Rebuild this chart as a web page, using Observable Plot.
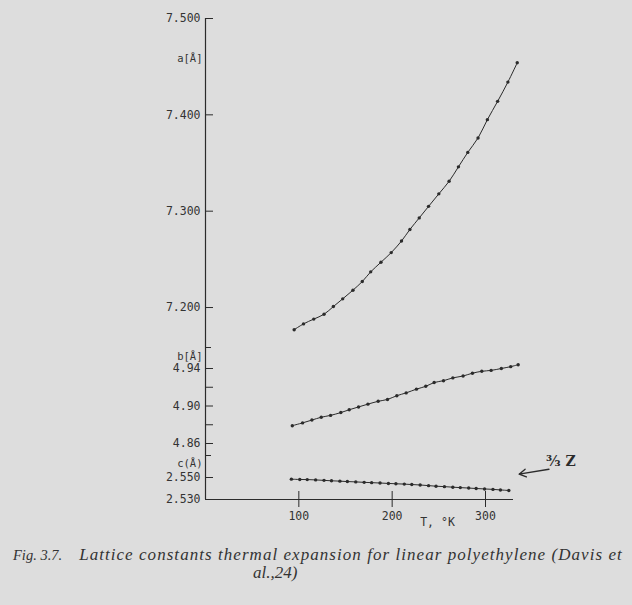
<!DOCTYPE html>
<html><head><meta charset="utf-8">
<script src="https://cdn.jsdelivr.net/npm/d3@7"></script>
<script src="https://cdn.jsdelivr.net/npm/@observablehq/plot@0.6"></script>
<style>
html,body{margin:0;padding:0;background:#dcdcdc;}
#wrap{position:relative;width:632px;height:605px;overflow:hidden;background:#dddddd;}
#wrap svg{position:absolute;left:0;overflow:visible;background:transparent;}
.cap{position:absolute;font-family:"Liberation Serif","DejaVu Serif",serif;font-style:italic;font-size:17px;color:#333;white-space:nowrap;}
.cap .fig{font-size:14.5px;letter-spacing:0;margin-right:17px;}
.cap .txt{letter-spacing:1.05px;}
</style></head><body>
<div id="wrap"></div>
<script>
// Temperature (K) and lattice constants a, b, c (Å)
const T_a = [95,105,116,127,137,147,158,168,177,188,199,210,219,229,239,250,261,271,281,292,302,313,324,334];
const a_vals = [7.177,7.183,7.188,7.193,7.201,7.209,7.218,7.227,7.237,7.247,7.257,7.269,7.281,7.293,7.305,7.318,7.331,7.346,7.361,7.376,7.395,7.414,7.434,7.454];
const T_b = [93,104,114,124,134,145,154,164,174,185,195,205,215,226,236,245,255,265,276,286,296,306,317,327,335];
const b_vals = [4.879,4.882,4.885,4.888,4.890,4.893,4.896,4.899,4.902,4.905,4.907,4.911,4.914,4.918,4.921,4.925,4.927,4.930,4.932,4.935,4.937,4.938,4.940,4.942,4.944];
const T_c = [92,101,109,118,127,135,144,152,161,170,178,187,196,204,213,221,230,239,247,256,265,273,282,290,299,308,316,325];
const c_vals = [2.5485,2.5482,2.5481,2.5478,2.5474,2.5470,2.5467,2.5463,2.5460,2.5456,2.5453,2.5450,2.5446,2.5443,2.5440,2.5436,2.5432,2.5426,2.5421,2.5417,2.5412,2.5408,2.5404,2.5400,2.5396,2.5392,2.5387,2.5382];

const a_ticks = [7.5,7.4,7.3,7.2];
const b_ticks = [4.94,4.90,4.86];
const b_minor = [4.92,4.88];
const c_ticks = [2.550,2.530];
const x_ticks = [100,200,300];
const a_domain = [7.1585,7.5];
const b_domain = [4.8472,4.9624];
const c_domain = [2.530,2.570];
const x_domain = [0,330];
const xLabel = "T, °K";
const annot = [{T1:368, c1:2.5575, T2:336, c2:2.5530, label:"³⁄₃ Z"}];
const captionFig = "Fig. 3.7.";
const caption1 = "Lattice constants thermal expansion for linear polyethylene (Davis et";
const caption2 = "al.,24)";

const ink = "#2b2b2b";
const tickFont = "DejaVu Sans Mono, monospace";
const W = 632, ML = 205, MR = 119;

function rows(T, v){ return T.map((t,i)=>({T:t, v:v[i]})); }

function panel({top, height, mt, mb, domain, data, ticks, minor, fmt, label, labelDy, extra=[], breakTop=false}) {
  const marks = [
    Plot.ruleX([0], {stroke: ink, strokeWidth: 1.2}),
    Plot.tickY(ticks, {y: d=>d, stroke: ink, insetRight: 300}),
    Plot.axisY(ticks, {label: null, tickSize: 0, tickPadding: 5, tickFormat: fmt, fontFamily: tickFont, fontSize: 11.5, fill: "#333"}),
    Plot.line(data, {x: "T", y: "v", stroke: ink, strokeWidth: 1, curve: "catmull-rom"}),
    Plot.dot(data, {x: "T", y: "v", r: 1.7, fill: ink, stroke: "none"}),
    Plot.text([label], {frameAnchor: "top-left", dx: -3, dy: labelDy, textAnchor: "end", fontFamily: tickFont, fontSize: 10.5, fill: "#333"}),
    ...extra
  ];
  if (minor) marks.push(Plot.tickY(minor, {y: d=>d, stroke: ink, insetRight: 300}));
  if (breakTop) marks.push(Plot.tickY([domain[1]], {y: d=>d, stroke: ink, insetRight: 302}));
  const p = Plot.plot({
    width: W, height, marginLeft: ML, marginRight: MR, marginTop: mt, marginBottom: mb,
    style: {background: "transparent", color: ink},
    x: {domain: x_domain, axis: null},
    y: {domain, axis: null},
    marks
  });
  p.style.top = top + "px";
  document.getElementById("wrap").appendChild(p);
}

panel({top: 0, height: 347, mt: 18, mb: 0, domain: a_domain, data: rows(T_a, a_vals), ticks: a_ticks, fmt: d3.format(".3f"), label: "a[Å]", labelDy: 36});
panel({top: 347, height: 108, mt: 0, mb: 0, domain: b_domain, data: rows(T_b, b_vals), ticks: b_ticks, minor: b_minor, fmt: d3.format(".2f"), label: "b[Å]", labelDy: 5, breakTop: true});
panel({top: 455, height: 89, mt: 0, mb: 45, domain: c_domain, data: rows(T_c, c_vals), ticks: c_ticks, fmt: d3.format(".3f"), label: "c(Å)", labelDy: 4, breakTop: true,
  extra: [
    Plot.ruleY([c_domain[0]], {stroke: ink, strokeWidth: 1.2}),
    Plot.tickX(x_ticks, {x: d=>d, stroke: ink, insetTop: 36, insetBottom: -8}),
    Plot.axisX(x_ticks, {label: null, tickSize: 0, tickPadding: 12, fontFamily: tickFont, fontSize: 11.5, fill: "#333"}),
    Plot.text([xLabel], {frameAnchor: "bottom", dx: 78, dy: 26, fontFamily: tickFont, fontSize: 11.5, fill: "#333"}),
    Plot.arrow(annot, {x1: "T1", y1: "c1", x2: "T2", y2: "c2", stroke: ink, strokeWidth: 1.3, headLength: 9}),
    Plot.text(annot, {x: "T1", y: "c1", text: "label", dx: 12, dy: -8, fontFamily: "DejaVu Serif, serif", fontSize: 14, fontWeight: "bold", fill: ink})
  ]});

const wrap = document.getElementById("wrap");
const c1 = document.createElement("div"); c1.className = "cap"; c1.style.left = "13px"; c1.style.top = "545px";
const f = document.createElement("span"); f.className = "fig"; f.textContent = captionFig;
const t = document.createElement("span"); t.className = "txt"; t.textContent = caption1;
c1.appendChild(f); c1.appendChild(t); wrap.appendChild(c1);
const c2 = document.createElement("div"); c2.className = "cap"; c2.style.left = "253px"; c2.style.top = "563px"; c2.textContent = caption2; wrap.appendChild(c2);
</script>
</body></html>
